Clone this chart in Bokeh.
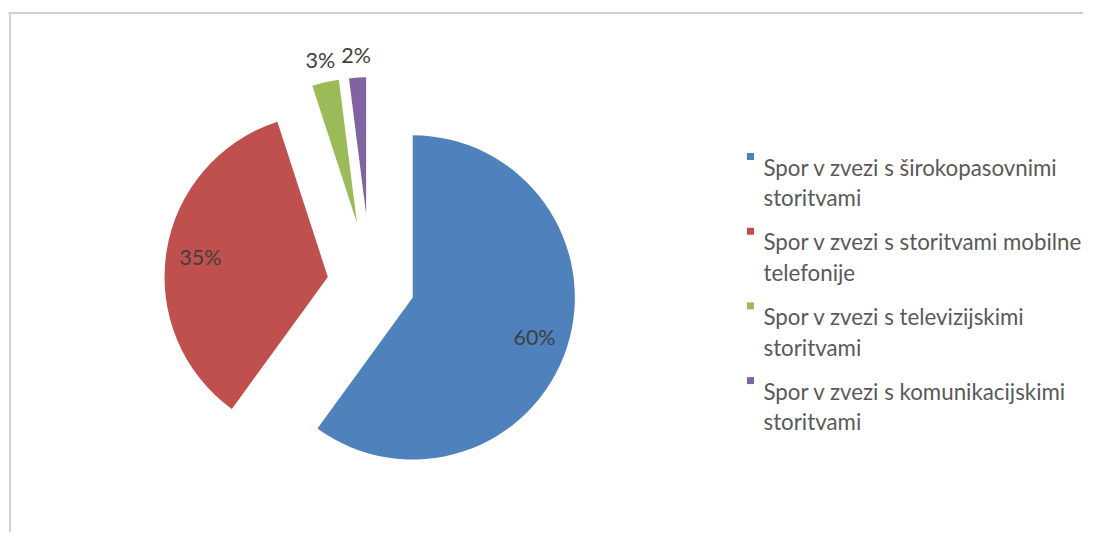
import math
from bokeh.plotting import figure
from bokeh.models import Range1d, ColumnDataSource
from bokeh.core.properties import value
from bokeh.embed import file_html
from bokeh.resources import INLINE

# ---------------- data ----------------
categories = [
    "Spor v zvezi s širokopasovnimi\nstoritvami",
    "Spor v zvezi s storitvami mobilne\ntelefonije",
    "Spor v zvezi s televizijskimi\nstoritvami",
    "Spor v zvezi s komunikacijskimi\nstoritvami",
]
shares = [60, 35, 3, 2]
colors = ["#4F81BD", "#C0504D", "#9BBB59", "#8064A2"]

# ---------------- layout (pixels) ----------------
W, H = 1083, 532
OFF = 0  # observed page offset of the figure in the screenshot
FONT = "Lato"
FS_LEG = 22.3
FS_LAB = 21.5

def sx(X):
    return X - OFF

def sy(Y):
    return OFF + H - Y

CX, CY = sx(370.0), sy(283.2)       # pie centre
R_OUT = 206.5                        # outer reach of exploded slices
EXPLODE = [44.4, 43.2, 62.1, 70.0]   # explosion distance per slice

p = figure(width=W, height=H, output_backend="svg", toolbar_location=None,
           x_range=Range1d(0, W), y_range=Range1d(0, H), min_border=0)
p.axis.visible = False
p.grid.visible = False
p.outline_line_color = None
p.background_fill_color = "white"
p.border_fill_color = "white"

# chart-area frame (top and left edges visible)
p.line([sx(8), sx(1110)], [sy(12.5), sy(12.5)], line_color="#d0d0d0", line_width=2)
p.line([sx(9.5), sx(9.5)], [sy(12), sy(560)], line_color="#d0d0d0", line_width=2)

total = float(sum(shares))
xs, ys, rs, starts, ends = [], [], [], [], []
lx, ly, ltxt = [], [], []
cum = 0.0
for s, d in zip(shares, EXPLODE):
    t1 = cum / total * 2 * math.pi
    cum += s
    t2 = cum / total * 2 * math.pi
    mid = (t1 + t2) / 2
    ux, uy = math.sin(mid), math.cos(mid)
    ax, ay = CX + d * ux, CY + d * uy
    r = R_OUT - d
    xs.append(ax); ys.append(ay); rs.append(r)
    starts.append(math.pi / 2 - t2); ends.append(math.pi / 2 - t1)
    frac = s / total
    dist = 0.79 * r if frac >= 0.1 else r + 23
    lx.append(ax + dist * ux); ly.append(ay + dist * uy)
    ltxt.append(f"{round(frac * 100)}%")

src = ColumnDataSource(dict(x=xs, y=ys, r=rs, start=starts, end=ends, color=colors))
p.wedge(x="x", y="y", radius="r", start_angle="start", end_angle="end",
        fill_color="color", line_color=None, source=src)

p.text(x=lx, y=ly, text=ltxt, text_font=value(FONT), text_font_size=f"{FS_LAB}px",
       text_color="#404040", text_align="center", text_baseline="middle")

# legend
LEG_X, LEG_Y, LEG_STEP, LINE_STEP = 750, 156, 74.7, 30.5
TXT_X = 763
sqx, sqy = [], []
tx, ty, tt = [], [], []
for i, lab in enumerate(categories):
    sqx.append(sx(LEG_X)); sqy.append(sy(LEG_Y + i * LEG_STEP))
    for j, line in enumerate(lab.split("\n")):
        tx.append(sx(TXT_X)); ty.append(sy(LEG_Y + 10.7 + i * LEG_STEP + j * LINE_STEP))
        tt.append(line)
p.scatter(x=sqx, y=sqy, marker="square", size=7, fill_color=colors, line_color=None)
p.text(x=tx, y=ty, text=tt, text_font=value(FONT), text_font_size=f"{FS_LEG}px",
       text_color="#595959", text_align="left", text_baseline="alphabetic")

open("out.html", "w").write(file_html(p, INLINE))
